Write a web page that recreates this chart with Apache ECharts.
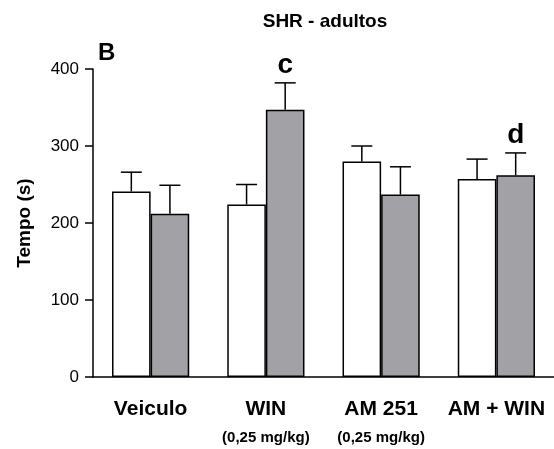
<!DOCTYPE html>
<html>
<head>
<meta charset="utf-8">
<script src="https://cdn.jsdelivr.net/npm/echarts@6/dist/echarts.min.js"></script>
<style>
  html, body { margin: 0; padding: 0; background: #fff; }
  #box { width: 554px; height: 449px; }
</style>
</head>
<body>
<div id="box"></div>
<script>
var categories = ['Veiculo', 'WIN\n{s|(0,25 mg/kg)}', 'AM 251\n{s|(0,25 mg/kg)}', 'AM + WIN'];
var whiteMean = [241, 224, 280, 257];
var whiteErr = [266, 250, 300, 283];
var grayMean = [212, 347, 237, 262];
var grayErr = [249, 382, 273, 291];
var grayNotes = ['', 'c', '', 'd'];
var yTicks = [0, 100, 200, 300, 400];

var font = 'Liberation Sans, Arial, sans-serif';
var barFrac = 0.335; // largura de cada barra em relação à categoria

function errData(mean, err, notes) {
    return mean.map(function (m, i) {
        return [i, m, err[i], notes ? notes[i] : ''];
    });
}

function errRender(side) {
    return function (params, api) {
        var band = api.size([1, 0])[0];
        var w = band * barFrac;
        var c = api.coord([api.value(0), 0]);
        var x = c[0] + side * w / 2;
        var top = api.coord([api.value(0), api.value(1)])[1];
        var hi = api.coord([api.value(0), api.value(2)])[1];
        var note = api.value(3);
        var children = [{
            type: 'line',
            shape: { x1: x, y1: top, x2: x, y2: hi },
            style: { stroke: '#000', lineWidth: 1.5 }
        }, {
            type: 'line',
            shape: { x1: x - 10.5, y1: hi, x2: x + 10.5, y2: hi },
            style: { stroke: '#000', lineWidth: 1.5 }
        }];
        if (note) {
            children.push({
                type: 'text',
                style: {
                    text: note, x: x, y: hi - 4,
                    align: 'center', verticalAlign: 'bottom',
                    font: 'bold 28px ' + font, fill: '#000'
                }
            });
        }
        return { type: 'group', children: children };
    };
}

var myChart = echarts.init(document.getElementById('box'));
var option = {
    backgroundColor: '#fff',
    animation: false,
    title: {
        text: 'SHR - adultos',
        left: 320, top: 7, textAlign: 'center',
        textStyle: { fontFamily: font, fontSize: 19, fontWeight: 'bold', color: '#000' }
    },
    graphic: [{
        type: 'text', left: 98, top: 41,
        style: { text: 'B', font: 'bold 24px ' + font, fill: '#000' }
    }],
    grid: { left: 93, right: 0, top: 69, bottom: 72, outerBoundsMode: 'none' },
    xAxis: {
        type: 'category',
        data: categories,
        axisLine: { lineStyle: { color: '#000', width: 1.5 } },
        axisTick: { show: false },
        axisLabel: {
            interval: 0,
            margin: 18,
            color: '#000',
            fontFamily: font,
            fontSize: 21,
            fontWeight: 'bold',
            lineHeight: 28,
            rich: {
                s: { fontFamily: font, fontSize: 15, fontWeight: 'bold', color: '#000', lineHeight: 30 }
            }
        }
    },
    yAxis: {
        type: 'value',
        min: 0, max: 400, interval: 100,
        name: 'Tempo (s)',
        nameLocation: 'middle',
        nameGap: 59,
        nameTextStyle: { fontFamily: font, fontSize: 19, fontWeight: 'bold', color: '#000' },
        axisLine: { show: true, lineStyle: { color: '#000', width: 1.5 } },
        axisTick: { show: true, length: 8, lineStyle: { color: '#000', width: 1.5 } },
        axisLabel: {
            color: '#000', fontFamily: font, fontSize: 17, margin: 14,
            formatter: function (v) { return yTicks.indexOf(v) >= 0 ? String(v) : ''; }
        },
        splitLine: { show: false }
    },
    series: [{
        type: 'bar',
        data: whiteMean,
        barGap: '0%',
        barCategoryGap: '33%',
        itemStyle: { color: '#fff', borderColor: '#000', borderWidth: 1.5 }
    }, {
        type: 'bar',
        data: grayMean,
        itemStyle: { color: '#a2a1a6', borderColor: '#000', borderWidth: 1.5 }
    }, {
        type: 'custom',
        renderItem: errRender(-1),
        data: errData(whiteMean, whiteErr),
        encode: { x: 0, y: 2 },
        z: 1
    }, {
        type: 'custom',
        renderItem: errRender(1),
        data: errData(grayMean, grayErr, grayNotes),
        encode: { x: 0, y: 2 },
        z: 1
    }]
};
myChart.setOption(option);
</script>
</body>
</html>
